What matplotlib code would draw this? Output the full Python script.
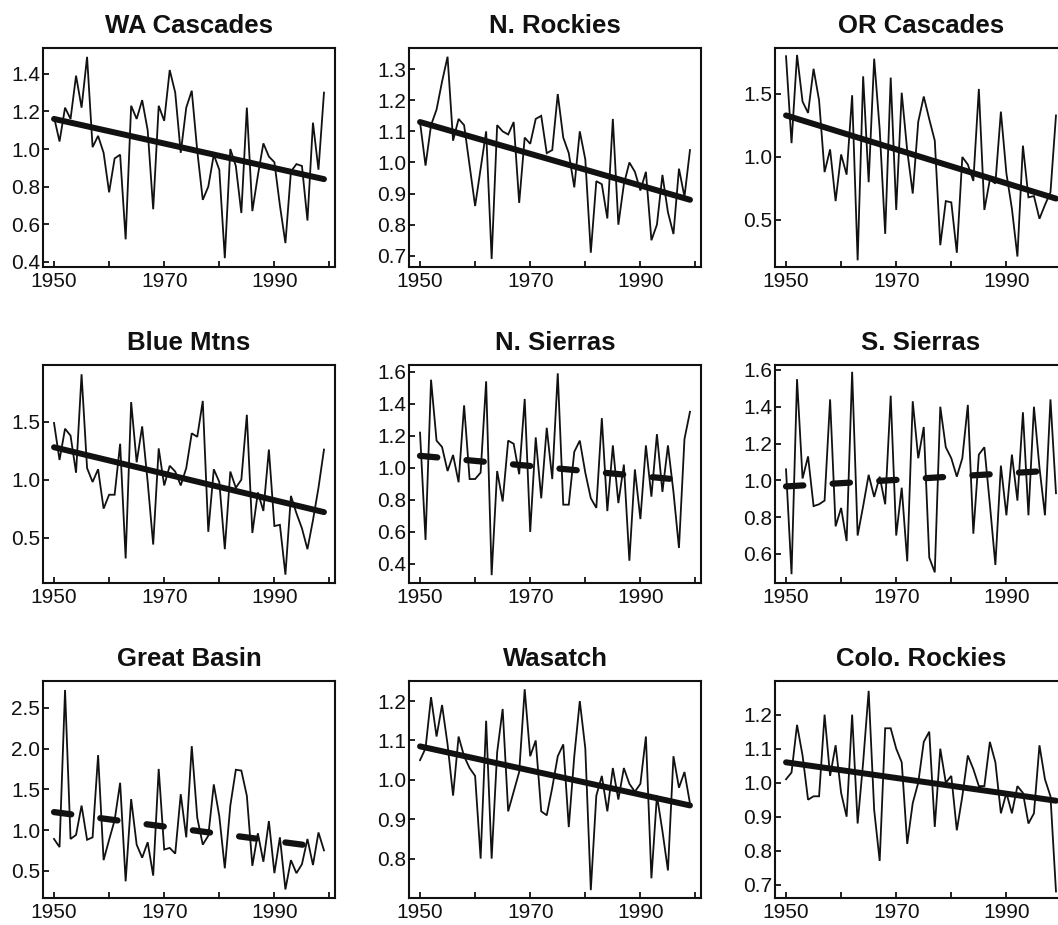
import matplotlib
matplotlib.use("Agg")
import matplotlib.pyplot as plt
import numpy as np

plt.rcParams['font.family'] = ['Liberation Sans', 'DejaVu Sans']
plt.rcParams['lines.scale_dashes'] = False

years = list(range(1950, 2000))

wa_cascades = [1.17, 1.04, 1.22, 1.16, 1.39, 1.22, 1.49, 1.01, 1.07, 0.98,
               0.77, 0.95, 0.97, 0.52, 1.23, 1.16, 1.26, 1.10, 0.68, 1.23,
               1.15, 1.42, 1.30, 0.98, 1.22, 1.31, 0.99, 0.73, 0.80, 0.97,
               0.89, 0.42, 1.00, 0.91, 0.66, 1.22, 0.67, 0.86, 1.03, 0.96,
               0.93, 0.70, 0.50, 0.88, 0.92, 0.91, 0.62, 1.14, 0.89, 1.30]
n_rockies = [1.13, 0.99, 1.12, 1.17, 1.26, 1.34, 1.07, 1.14, 1.12, 0.99,
             0.86, 0.98, 1.10, 0.69, 1.12, 1.10, 1.09, 1.13, 0.87, 1.08,
             1.06, 1.14, 1.15, 1.03, 1.04, 1.22, 1.08, 1.03, 0.92, 1.10,
             1.01, 0.71, 0.94, 0.93, 0.82, 1.14, 0.80, 0.93, 1.00, 0.97,
             0.91, 0.97, 0.75, 0.80, 0.96, 0.84, 0.77, 0.98, 0.89, 1.04]
or_cascades = [1.80, 1.11, 1.81, 1.44, 1.35, 1.70, 1.45, 0.88, 1.06, 0.65,
               1.02, 0.86, 1.49, 0.18, 1.64, 0.80, 1.78, 1.22, 0.39, 1.63,
               0.58, 1.51, 1.05, 0.71, 1.28, 1.48, 1.30, 1.13, 0.30, 0.65,
               0.64, 0.24, 1.00, 0.94, 0.81, 1.54, 0.58, 0.82, 0.79, 1.36,
               0.87, 0.59, 0.21, 1.09, 0.68, 0.69, 0.51, 0.62, 0.72, 1.33]
blue_mtns = [1.49, 1.17, 1.44, 1.38, 1.06, 1.91, 1.10, 0.98, 1.09, 0.75,
             0.87, 0.87, 1.31, 0.32, 1.67, 1.15, 1.46, 0.98, 0.44, 1.27,
             0.95, 1.12, 1.07, 0.95, 1.10, 1.40, 1.37, 1.68, 0.55, 1.09,
             0.98, 0.40, 1.07, 0.93, 1.00, 1.56, 0.54, 0.89, 0.73, 1.26,
             0.60, 0.61, 0.18, 0.86, 0.71, 0.58, 0.40, 0.65, 0.93, 1.26]
n_sierras = [1.22, 0.55, 1.55, 1.17, 1.13, 0.98, 1.08, 0.91, 1.39, 0.93,
             0.93, 0.97, 1.54, 0.33, 0.98, 0.79, 1.17, 1.15, 0.96, 1.43,
             0.60, 1.19, 0.81, 1.25, 0.93, 1.59, 0.77, 0.77, 1.10, 1.17,
             0.97, 0.81, 0.75, 1.31, 0.73, 1.14, 0.78, 1.02, 0.42, 0.99,
             0.68, 1.14, 0.82, 1.21, 0.85, 1.14, 0.85, 0.50, 1.18, 1.35]
s_sierras = [1.06, 0.49, 1.55, 1.01, 1.13, 0.86, 0.87, 0.89, 1.44, 0.75,
             0.85, 0.67, 1.59, 0.70, 0.86, 1.03, 0.91, 1.02, 0.87, 1.46,
             0.70, 0.96, 0.56, 1.43, 1.12, 1.29, 0.58, 0.50, 1.40, 1.18,
             1.12, 1.02, 1.12, 1.41, 0.71, 1.14, 1.18, 0.87, 0.54, 1.08,
             0.81, 1.14, 0.89, 1.37, 0.81, 1.40, 1.07, 0.81, 1.44, 0.93]
great_basin = [0.89, 0.79, 2.72, 0.89, 0.94, 1.30, 0.88, 0.91, 1.92, 0.63,
               0.88, 1.12, 1.58, 0.37, 1.38, 0.82, 0.66, 0.85, 0.44, 1.75,
               0.76, 0.78, 0.71, 1.44, 0.91, 2.03, 1.15, 0.82, 0.93, 1.56,
               1.17, 0.53, 1.30, 1.74, 1.73, 1.42, 0.56, 0.96, 0.61, 1.11,
               0.47, 0.91, 0.27, 0.63, 0.47, 0.58, 0.89, 0.57, 0.97, 0.75]
wasatch = [1.05, 1.08, 1.21, 1.11, 1.19, 1.09, 0.96, 1.11, 1.06, 1.03,
           1.01, 0.80, 1.15, 0.80, 1.07, 1.18, 0.92, 0.97, 1.02, 1.23,
           1.06, 1.10, 0.92, 0.91, 0.98, 1.06, 1.09, 0.88, 1.06, 1.20,
           1.08, 0.72, 0.96, 1.01, 0.92, 1.03, 0.95, 1.03, 0.99, 0.97,
           0.99, 1.11, 0.75, 0.96, 0.87, 0.77, 1.06, 0.98, 1.02, 0.94]
colo_rockies = [1.01, 1.03, 1.17, 1.08, 0.95, 0.96, 0.96, 1.20, 1.02, 1.11,
                0.97, 0.90, 1.20, 0.88, 1.06, 1.27, 0.92, 0.77, 1.16, 1.16,
                1.10, 1.06, 0.82, 0.94, 1.00, 1.12, 1.15, 0.87, 1.10, 1.00,
                1.02, 0.86, 0.96, 1.08, 1.04, 0.99, 0.99, 1.12, 1.06, 0.91,
                0.97, 0.91, 0.99, 0.97, 0.88, 0.91, 1.11, 1.01, 0.96, 0.68]

titles = ['WA Cascades', 'N. Rockies', 'OR Cascades',
          'Blue Mtns', 'N. Sierras', 'S. Sierras',
          'Great Basin', 'Wasatch', 'Colo. Rockies']
series = [wa_cascades, n_rockies, or_cascades,
          blue_mtns, n_sierras, s_sierras,
          great_basin, wasatch, colo_rockies]
# trend value at 1950 and at 1999
trend_start = [1.16, 1.13, 1.33, 1.28, 1.075, 0.967, 1.22, 1.085, 1.06]
trend_end = [0.84, 0.88, 0.67, 0.72, 0.92, 1.054, 0.785, 0.935, 0.947]
trend_dashed = [False, False, False, False, True, True, True, False, False]

# axis setup per panel
ylims = [(0.373, 1.537), (0.664, 1.368), (0.127, 1.865),
         (0.108, 1.99), (0.281, 1.642), (0.442, 1.627),
         (0.165, 2.83), (0.70, 1.251), (0.661, 1.299)]
yticks = [np.arange(0.4, 1.41, 0.2), np.arange(0.7, 1.31, 0.1), [0.5, 1.0, 1.5],
          [0.5, 1.0, 1.5], np.arange(0.4, 1.61, 0.2), np.arange(0.6, 1.61, 0.2),
          [0.5, 1.0, 1.5, 2.0, 2.5], np.arange(0.8, 1.21, 0.1), np.arange(0.7, 1.21, 0.1)]

col_left = [43, 409, 775]
row_top = [48, 365, 681]
row_h = [219, 218, 217]
W, H = 1058, 925
ax_w = 292

fig = plt.figure(figsize=(W / 100, H / 100), dpi=100)
ink = '#111111'

for i in range(9):
    r, c = divmod(i, 3)
    left = col_left[c] / W
    bottom = 1 - (row_top[r] + row_h[r]) / H
    ax = fig.add_axes([left, bottom, ax_w / W, row_h[r] / H])

    ax.plot(years, series[i], color=ink, lw=1.3, solid_joinstyle='miter')
    if trend_dashed[i]:
        ax.plot([years[0], years[-1]], [trend_start[i], trend_end[i]], color=ink,
                lw=4.5, linestyle=(0, (12.5, 21.1)), dash_capstyle='round')
    else:
        ax.plot([years[0], years[-1]], [trend_start[i], trend_end[i]], color=ink,
                lw=4.3, solid_capstyle='round')

    ax.set_xlim(1948, 2001)
    ax.set_ylim(*ylims[i])
    ax.set_xticks(range(1950, 2001, 10))
    ax.set_xticklabels(['1950', '', '1970', '', '1990', ''])
    ax.set_yticks(yticks[i])
    ax.set_yticklabels(['%.1f' % v for v in yticks[i]])
    ax.tick_params(direction='in', length=4, width=1.3, labelsize=15,
                   colors=ink, top=False, right=False)
    ax.tick_params(axis='x', pad=3.5)
    ax.tick_params(axis='y', pad=2)
    for s in ax.spines.values():
        s.set_linewidth(1.5)
        s.set_color(ink)
    ax.set_title(titles[i], fontsize=18.5, fontweight='bold', color=ink, pad=10.5)

fig.savefig('out.png', dpi=100)
